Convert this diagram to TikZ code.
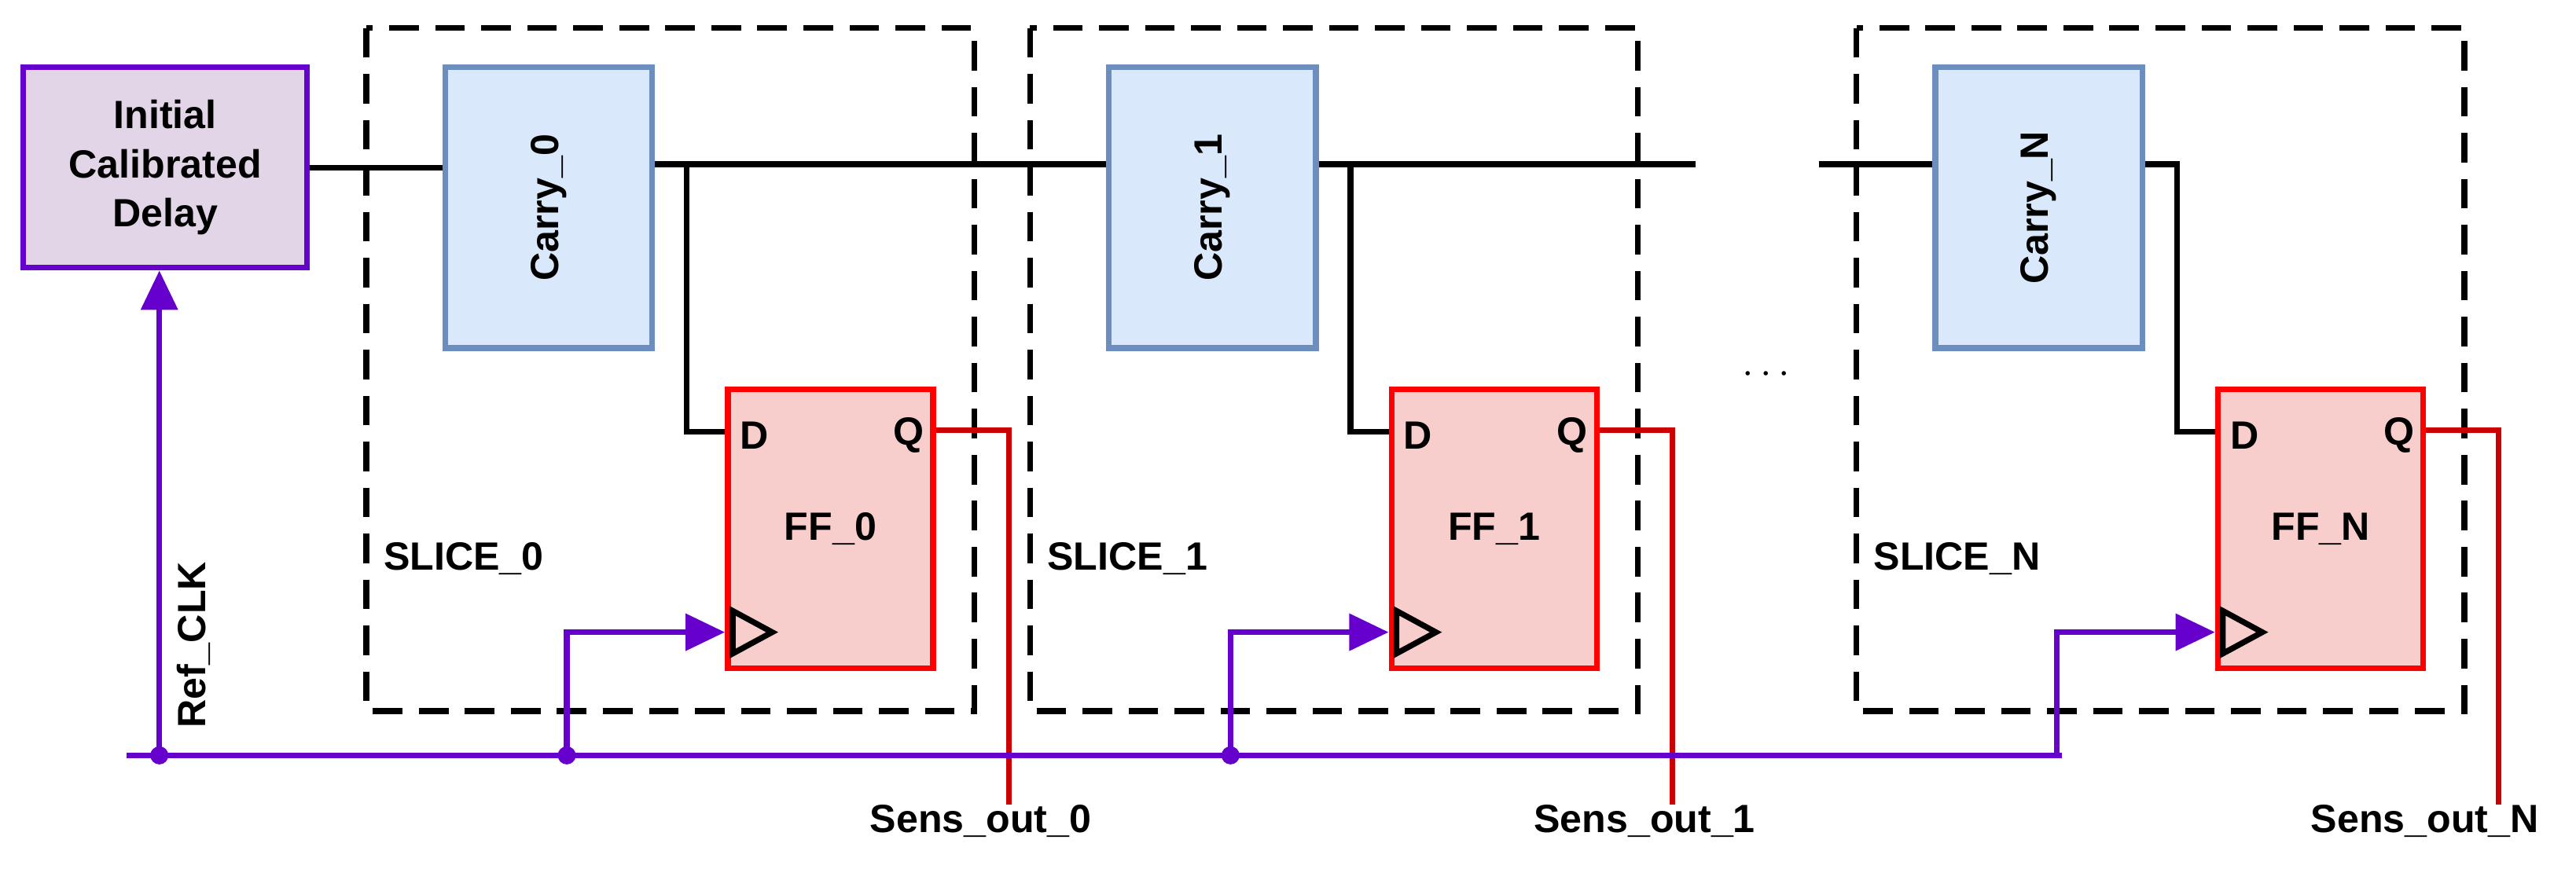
\documentclass[tikz,border=0pt]{standalone}
\usepackage{fontspec}
\setmainfont{Liberation Sans}
\usetikzlibrary{arrows.meta,calc}
\definecolor{clkpurple}{RGB}{102,0,204}
\definecolor{ffred}{RGB}{255,0,0}
\definecolor{qred}{RGB}{204,0,0}
\definecolor{carryblue}{RGB}{108,142,191}
\definecolor{carryfill}{RGB}{218,232,252}
\definecolor{fffill}{RGB}{248,206,204}
\definecolor{delayfill}{RGB}{225,213,231}
\tikzset{
  carry/.style={draw=carryblue, fill=carryfill, line width=3.5pt, minimum width=126pt, minimum height=171pt, inner sep=0pt},
  ff/.style={draw=ffred, fill=fffill, line width=3.5pt, minimum width=125pt, minimum height=170pt, inner sep=0pt},
  slice/.style={draw, line width=3.5pt, dash pattern=on 18pt off 10pt},
  wire/.style={line width=3.5pt},
  clk/.style={line width=3.5pt, draw=clkpurple},
  lbl/.style={font=\bfseries\fontsize{24}{30}\selectfont},
}
\begin{document}
\begin{tikzpicture}[x=1pt, y=-1pt]
	\useasboundingbox (0,0) rectangle (1568,529);
	% delay block
	\node[draw=clkpurple, fill=delayfill, line width=3.5pt, minimum width=173pt, minimum height=122pt, align=center, lbl, inner sep=0pt] (delay) at (100.5,102) {Initial\\Calibrated\\Delay};
	% slices
	\foreach \dx/\i/\lx in {0/0/597, 404/1/1001, 907/N/1476} {
		\draw[slice] (223+\dx,17) rectangle (593+\dx,433);
		\node[lbl, anchor=west] (slice\i) at (230+\dx,340) {SLICE\_\i};
		\node[carry] (carry\i) at (334+\dx,126.5) {};
		\node[lbl, rotate=90] at (carry\i) {Carry\_\i};
		\node[ff] (ff\i) at (505.5+\dx,322) {};
		\node[lbl, anchor=west] at (447+\dx,265) {D};
		\node[lbl, anchor=east] at (566+\dx,265) {Q};
		\node[lbl] at (ff\i) {FF\_\i};
		\draw[wire] (446+\dx,372) -- (470+\dx,385) -- (446+\dx,398) -- cycle;
		% D input
		\draw[wire] (carry\i.east |- 0,100) -| (418+\dx,263) -- (ff\i.west |- 0,263);
		% Q output
		\coordinate (out\i) at (614+\dx,490);
		\draw[line width=3.5pt, draw=qred] (ff\i.east |- 0,262) -| (out\i);
		\node[lbl] at (\lx,500) {Sens\_out\_\i};
		% clock arrow
		\draw[clk, -{Triangle[length=24pt, width=22pt]}] (345+\dx,460) |- (ff\i.west |- 0,385);
	}
	% data line
	\draw[wire] (delay.east) -- (carry0.west |- delay.east);
	\draw[wire] (carry0.east |- 0,100) -- (carry1.west |- 0,100);
	\draw[wire] (carry1.east |- 0,100) -- (1032,100);
	\draw[wire] (1107,100) -- (carryN.west |- 0,100);
	\node[lbl] at (1075,228) {$\cdots$};
	% clock bus
	\draw[clk] (77,460) -- (1255,460);
	\fill[clkpurple] (97,460) circle (5.5pt) (345,460) circle (5.5pt) (749,460) circle (5.5pt);
	\draw[clk, -{Triangle[length=24pt, width=22pt]}] (97,460) -- (delay.south -| 97,0);
	\node[lbl, rotate=90, anchor=west] at (118,447) {Ref\_CLK};
\end{tikzpicture}
\end{document}
